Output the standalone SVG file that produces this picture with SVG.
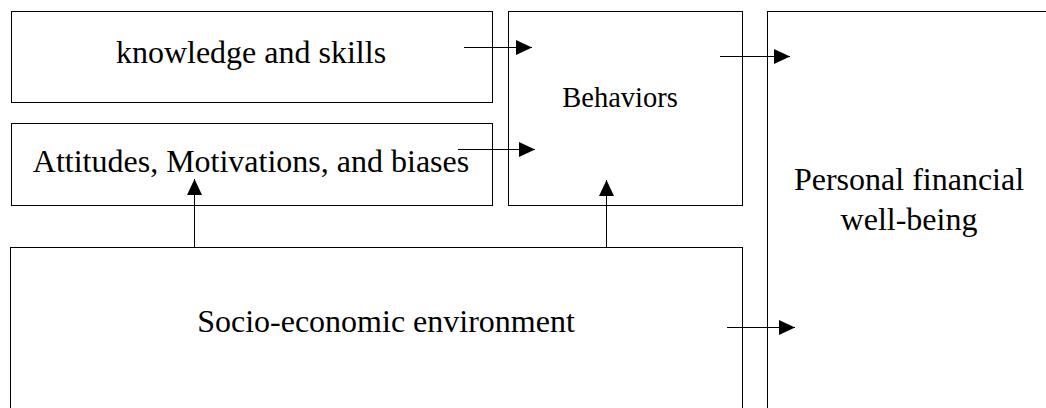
<svg xmlns="http://www.w3.org/2000/svg" width="1046" height="408" viewBox="0 0 1046 408">
<style>
.box{fill:#fff;stroke:#000;stroke-width:1}
text{font-family:'Liberation Serif','Times New Roman',Times,serif;font-size:32px;fill:#000;text-anchor:middle}
.c{stroke:#000;stroke-width:1;fill:none;marker-end:url(#ah)}
</style>
<defs>
<marker id="ah" viewBox="0 0 16 15" refX="16" refY="7.5" markerWidth="16" markerHeight="15" markerUnits="userSpaceOnUse" orient="auto">
<path d="M0,0 L16,7.5 L0,15 Z" fill="#000"/>
</marker>
</defs>
<rect width="1046" height="408" fill="#fff"/>
<g id="knowledge"><rect class="box" x="11.5" y="11.5" width="481" height="91"/><text x="251" y="63">knowledge and skills</text></g>
<g id="attitudes"><rect class="box" x="11.5" y="123.5" width="481" height="82"/><text x="251" y="172">Attitudes, Motivations, and biases</text></g>
<g id="behaviors"><rect class="box" x="508.5" y="11.5" width="234" height="194"/><text x="620" y="107" style="font-size:28.5px">Behaviors</text></g>
<g id="wellbeing"><rect class="box" x="767.5" y="11.5" width="290" height="410"/><text x="909" y="190">Personal financial</text><text x="909" y="230">well-being</text></g>
<g id="socio"><rect class="box" x="10.5" y="247.5" width="732" height="180"/><text x="386" y="332">Socio-economic environment</text></g>
<g id="connectors">
<line class="c" x1="464" y1="47.5" x2="532" y2="47.5"/>
<line class="c" x1="458" y1="149.5" x2="535" y2="149.5"/>
<line class="c" x1="720" y1="56.5" x2="790" y2="56.5"/>
<line class="c" x1="727" y1="327.5" x2="795" y2="327.5"/>
<line class="c" x1="194.5" y1="247" x2="194.5" y2="179"/>
<line class="c" x1="606.5" y1="247" x2="606.5" y2="180"/>
</g>
</svg>
